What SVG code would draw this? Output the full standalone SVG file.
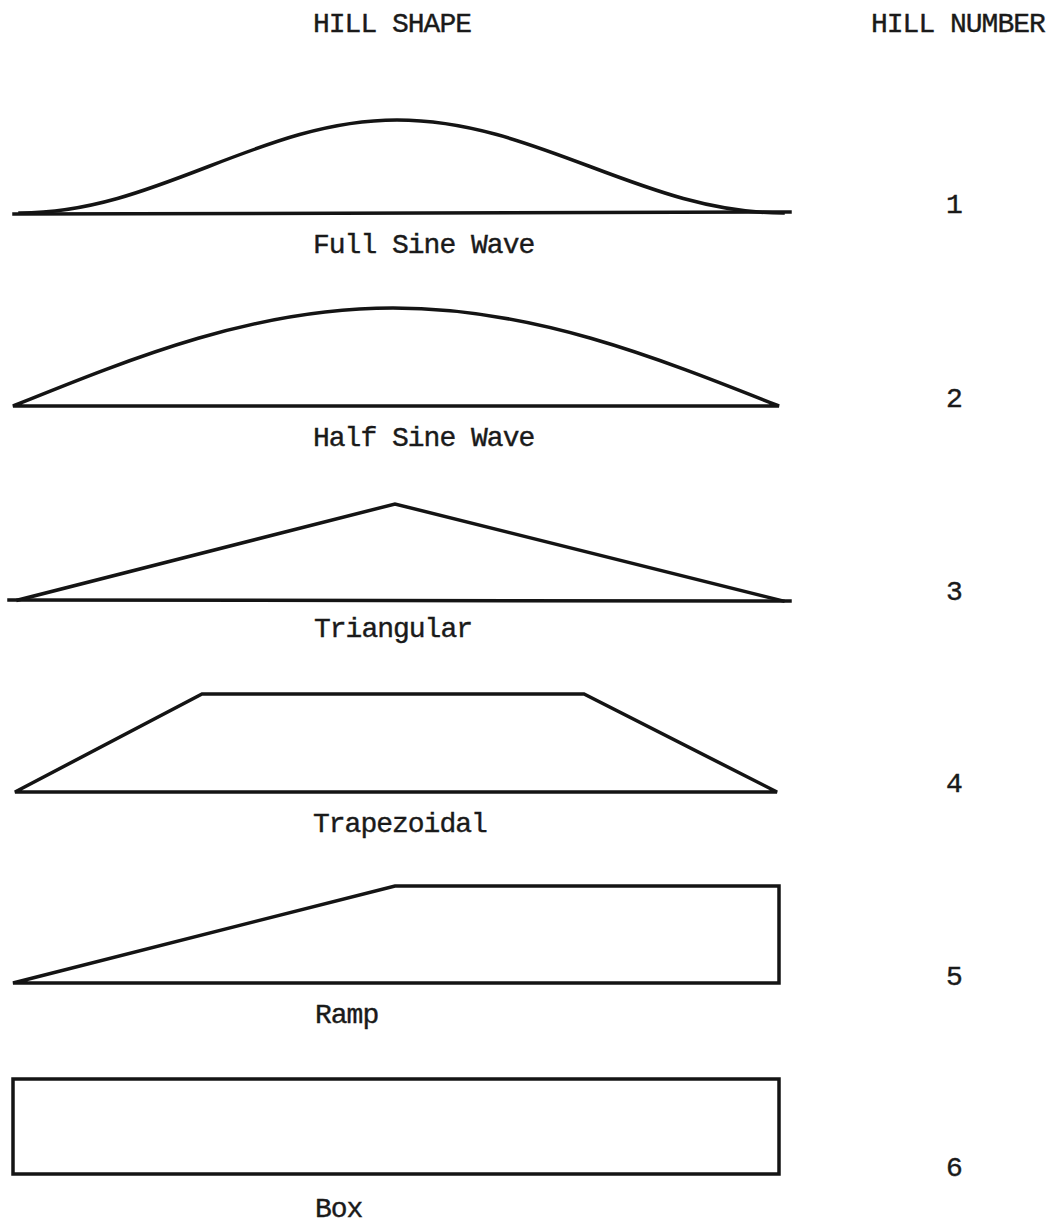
<svg xmlns="http://www.w3.org/2000/svg" width="1054" height="1226" viewBox="0 0 1054 1226">
<style>
.s{fill:none;stroke:#141414;stroke-width:3.5;stroke-linejoin:miter;stroke-linecap:square}
.t{font-family:"Liberation Mono","DejaVu Sans Mono",monospace;font-size:28px;letter-spacing:-1px;fill:#1a1a1a;stroke:#1a1a1a;stroke-width:0.4}
</style>
<rect width="1054" height="1226" fill="#ffffff"/>
<g id="headers">
<text class="t" x="313" y="32">HILL SHAPE</text>
<text class="t" x="871" y="32">HILL NUMBER</text>
</g>
<g id="hill1">
<path class="s" d="M20,213 C157,213 260,120 397,120 C537,120 643,213 783,213"/>
<line class="s" x1="14" y1="214" x2="790" y2="212"/>
<text class="t" x="313" y="253">Full Sine Wave</text>
<text class="t" x="946" y="213">1</text>
</g>
<g id="hill2">
<path class="s" d="M13,406 C137,356 256,308 393,308 C532,308 653,356 779,406 Z"/>
<text class="t" x="313" y="446">Half Sine Wave</text>
<text class="t" x="946" y="407">2</text>
</g>
<g id="hill3">
<polyline class="s" points="18,600 395,504 783,601"/>
<line class="s" x1="9" y1="600" x2="790" y2="601"/>
<text class="t" x="314" y="637">Triangular</text>
<text class="t" x="946" y="600">3</text>
</g>
<g id="hill4">
<polygon class="s" points="15,792 202,694 584,694 777,792"/>
<text class="t" x="313" y="832">Trapezoidal</text>
<text class="t" x="946" y="792">4</text>
</g>
<g id="hill5">
<polygon class="s" points="13,983 395,886 779,886 779,983"/>
<text class="t" x="315" y="1023">Ramp</text>
<text class="t" x="946" y="985">5</text>
</g>
<g id="hill6">
<rect class="s" x="13" y="1079" width="766" height="95"/>
<text class="t" x="315" y="1217">Box</text>
<text class="t" x="946" y="1176">6</text>
</g>
<g id="connectors"></g>
</svg>
